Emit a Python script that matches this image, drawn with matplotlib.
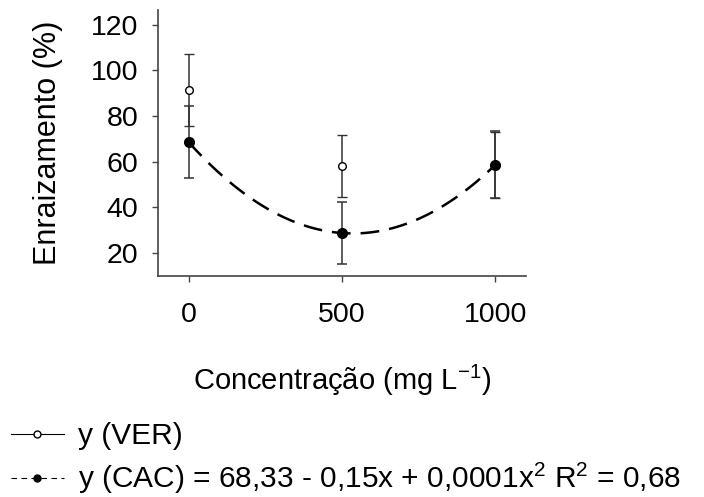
import matplotlib
matplotlib.use('Agg')
from matplotlib import pyplot as plt
from matplotlib.lines import Line2D
import numpy as np

plt.rcParams['font.family'] = ['Liberation Sans', 'DejaVu Sans']
plt.rcParams['mathtext.fontset'] = 'custom'
plt.rcParams['mathtext.rm'] = 'Liberation Sans'
plt.rcParams['mathtext.it'] = 'Liberation Sans'

# dados
conc = [0, 500, 1000]
ver_media = [91.5, 58.2, 58.7]
ver_erro = [15.6, 13.5, 14.5]
cac_media = [68.6, 28.8, 58.7]
cac_erro = [15.9, 13.6, 14.7]

fig = plt.figure(figsize=(7.04, 4.97), dpi=100)
ax = fig.add_axes([0.2244, 0.4447, 0.5228, 0.5352])

# curva ajustada (quadratica) para CAC
coef = np.polyfit(conc, cac_media, 2)
xx = np.linspace(0, 1000, 200)
ax.plot(xx, np.polyval(coef, xx), color='black', lw=1.8, dashes=(7.5, 4), zorder=2)

ax.errorbar(conc, ver_media, yerr=ver_erro, fmt='o', color='#333333', ecolor='#333333',
            elinewidth=1.1, capsize=3.3, capthick=1.1, ms=5.5, mfc='white', mec='black',
            mew=1.0, zorder=3)
ax.errorbar(conc, cac_media, yerr=cac_erro, fmt='o', color='black', ecolor='#333333',
            elinewidth=1.1, capsize=3.3, capthick=1.1, ms=7, mfc='black', mec='black',
            zorder=4)

ax.set_xlim(-100, 1100)
ax.set_ylim(10, 126.5)
ax.set_xticks([0, 500, 1000])
ax.set_yticks([20, 40, 60, 80, 100, 120])
ax.spines['top'].set_visible(False)
ax.spines['right'].set_visible(False)
for s in ['left', 'bottom']:
    ax.spines[s].set_color('#444444')
    ax.spines[s].set_linewidth(1.2)
ax.tick_params(axis='both', direction='out', length=4, width=1, color='#444444',
               labelsize=20.5)
ax.tick_params(axis='x', pad=15)
ax.tick_params(axis='y', pad=10)

ax.set_ylabel('Enraizamento (%)', fontsize=22, labelpad=20)
ax.set_xlabel('Concentração (mg L$^{-1}$)', fontsize=21, labelpad=25)

h_ver = Line2D([], [], color='black', lw=0.8, marker='o', ms=5, mfc='white', mec='black')
h_cac = Line2D([], [], color='black', lw=0.8, dashes=(5, 4), marker='o', ms=5,
               mfc='black', mec='black')
fig.legend([h_ver, h_cac],
           ['y (VER)', 'y (CAC) = 68,33 - 0,15x + 0,0001x$^2$ R$^2$ = 0,68'],
           loc='upper left', bbox_to_anchor=(0.015, 0.150), frameon=False,
           borderpad=0, borderaxespad=0,
           fontsize=21.5, handlelength=1.8, handletextpad=0.45, labelspacing=0.35)

fig.savefig('out.png', dpi=100)
